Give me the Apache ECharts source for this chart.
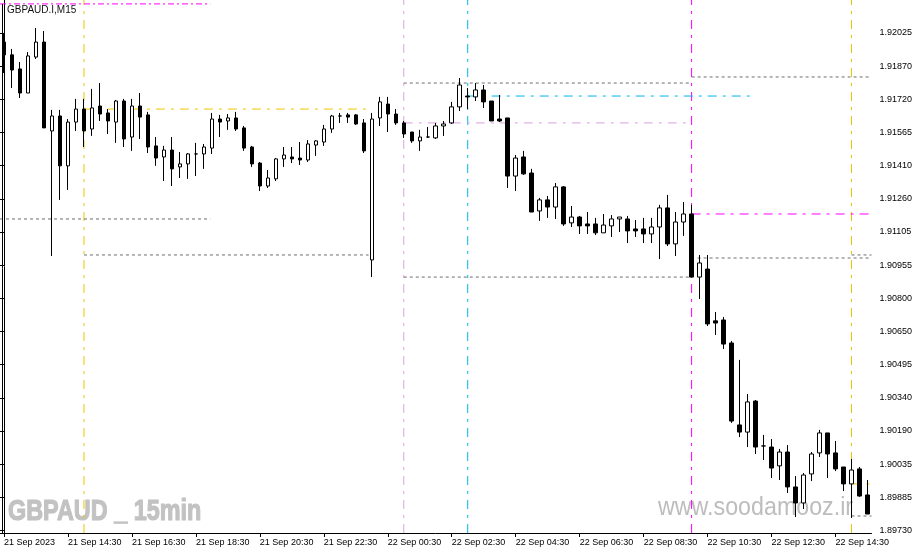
<!DOCTYPE html>
<html><head><meta charset="utf-8">
<script src="https://cdn.jsdelivr.net/npm/echarts/dist/echarts.min.js"></script>
<style>html,body{margin:0;padding:0;background:#fff}#c{width:919px;height:554px}</style>
</head><body><div id="c"></div>
<script>
// ---- data (GBPAUD.I, M15, starting 21 Sep 2023 12:30) ----
const startTime = '2023-09-21T12:30';
const opens = [1.91983,1.91924,1.91859,1.91748,1.91914,1.91983,1.91573,1.91642,1.91412,1.91614,
1.91674,1.91582,1.91688,1.91656,1.91614,1.91711,1.91545,1.91688,1.91647,1.91504,
1.91453,1.91485,1.91407,1.91421,1.91467,1.91467,1.91494,1.91628,1.91619,1.91633,
1.91587,1.91499,1.91425,1.91319,1.91352,1.91444,1.91453,1.91448,1.91439,1.91508,
1.91522,1.91582,1.91642,1.91647,1.91647,1.91610,1.90978,1.91633,1.91697,1.91651,
1.91610,1.91568,1.91527,1.91545,1.91541,1.91596,1.91610,1.91684,1.91734,1.91730,
1.91762,1.91711,1.91628,1.91633,1.91365,1.91453,1.91379,1.91204,1.91255,1.91222,
1.91315,1.91149,1.91176,1.91144,1.91144,1.91103,1.91135,1.91167,1.91167,1.91121,
1.91121,1.91098,1.91130,1.91218,1.91052,1.91153,1.91190,1.90899,1.90936,1.90697,
1.90701,1.90595,1.90217,1.90184,1.90327,1.90120,1.90115,1.90028,1.90092,1.89931,
1.89857,1.89991,1.90088,1.90180,1.90088,1.90023,1.89945,1.90014,1.89894];
const closes = [1.91924,1.91854,1.91748,1.91919,1.91983,1.91587,1.91642,1.91412,1.91614,1.91674,
1.91573,1.91679,1.91651,1.91619,1.91711,1.91536,1.91688,1.91637,1.91499,1.91448,
1.91485,1.91398,1.91421,1.91467,1.91467,1.91499,1.91628,1.91614,1.91633,1.91582,
1.91494,1.91421,1.91319,1.91356,1.91444,1.91462,1.91444,1.91439,1.91513,1.91527,
1.91582,1.91642,1.91642,1.91637,1.91605,1.91481,1.91628,1.91707,1.91651,1.91610,
1.91559,1.91527,1.91545,1.91545,1.91596,1.91605,1.91684,1.91785,1.91730,1.91762,
1.91707,1.91619,1.91619,1.91365,1.91448,1.91375,1.91199,1.91255,1.91222,1.91315,
1.91144,1.91176,1.91135,1.91135,1.91103,1.91139,1.91167,1.91176,1.91112,1.91112,
1.91098,1.91130,1.91218,1.91052,1.91153,1.91190,1.90899,1.90964,1.90683,1.90687,
1.90590,1.90235,1.90184,1.90323,1.90115,1.90120,1.90018,1.90092,1.89931,1.89857,
1.89986,1.90083,1.90180,1.90083,1.90014,1.89945,1.90009,1.89889,1.89806];
const lows = [1.91840,1.91771,1.91725,1.91748,1.91905,1.91587,1.90996,1.91255,1.91301,1.91573,
1.91499,1.91550,1.91619,1.91559,1.91518,1.91499,1.91481,1.91536,1.91471,1.91412,
1.91342,1.91319,1.91356,1.91352,1.91365,1.91398,1.91467,1.91545,1.91578,1.91573,
1.91481,1.91407,1.91296,1.91310,1.91342,1.91407,1.91425,1.91416,1.91430,1.91458,
1.91504,1.91564,1.91610,1.91610,1.91601,1.91471,1.90899,1.91596,1.91568,1.91601,
1.91541,1.91518,1.91481,1.91541,1.91536,1.91550,1.91605,1.91665,1.91674,1.91711,
1.91679,1.91619,1.91614,1.91310,1.91296,1.91370,1.91199,1.91158,1.91172,1.91167,
1.91135,1.91130,1.91098,1.91098,1.91093,1.91103,1.91084,1.91107,1.91056,1.91084,
1.91056,1.91056,1.90982,1.91042,1.90996,1.91089,1.90899,1.90798,1.90673,1.90632,
1.90567,1.90226,1.90161,1.90115,1.90083,1.90055,1.89972,1.89963,1.89903,1.89792,
1.89829,1.89958,1.90069,1.89972,1.90004,1.89912,1.89788,1.89885,1.89806];
const highs = [1.92025,1.91951,1.91891,1.91937,1.92048,1.92034,1.91670,1.91670,1.91628,1.91721,
1.91721,1.91767,1.91794,1.91674,1.91716,1.91721,1.91721,1.91748,1.91661,1.91545,
1.91504,1.91545,1.91476,1.91471,1.91518,1.91513,1.91656,1.91647,1.91651,1.91661,
1.91596,1.91504,1.91430,1.91393,1.91448,1.91499,1.91499,1.91522,1.91531,1.91531,
1.91601,1.91647,1.91656,1.91656,1.91651,1.91628,1.91656,1.91730,1.91730,1.91674,
1.91619,1.91568,1.91578,1.91591,1.91610,1.91619,1.91707,1.91817,1.91771,1.91794,
1.91785,1.91711,1.91739,1.91633,1.91462,1.91481,1.91398,1.91264,1.91273,1.91333,
1.91319,1.91227,1.91181,1.91199,1.91172,1.91190,1.91185,1.91176,1.91181,1.91162,
1.91172,1.91172,1.91232,1.91278,1.91199,1.91245,1.91232,1.91001,1.91001,1.90738,
1.90715,1.90604,1.90517,1.90360,1.90332,1.90171,1.90152,1.90106,1.90124,1.89981,
1.89995,1.90092,1.90194,1.90180,1.90143,1.90023,1.90060,1.90023,1.89963];

// x-axis tick labels (every 8th bar = 2 hours)
const xTickLabels = ['21 Sep 2023','21 Sep 14:30','21 Sep 16:30','21 Sep 18:30','21 Sep 20:30','21 Sep 22:30',
'22 Sep 00:30','22 Sep 02:30','22 Sep 04:30','22 Sep 06:30','22 Sep 08:30','22 Sep 10:30','22 Sep 12:30','22 Sep 14:30'];
// price-scale labels, bottom to top
const yTickLabels = ['1.89730','1.89885','1.90035','1.90190','1.90340','1.90495','1.90650','1.90800',
'1.90955','1.91105','1.91260','1.91410','1.91565','1.91720','1.91870','1.92025'];
const priceMin = 1.897185, priceMax = 1.92177;

// session vertical lines (bar index)
const vLineIdx = [10, 50, 58, 86, 106];
// horizontal level lines: price, from bar, to bar
const levelPrice = [1.92159, 1.91167, 1.91674, 1.91001, 1.91794, 1.91610, 1.90899, 1.91734, 1.91822, 1.91190, 1.90987, 1.91001, 1.89945, 1.89797];
const levelFrom  = [-0.5, -0.5, 10, 10, 50, 50, 50, 58, 86, 86, 86.75, 106, 106, 106];
const levelTo    = [25.8, 25.8, 45.6, 45.6, 85.8, 85.8, 85.8, 93.6, 108.5, 108.5, 108.5, 108.5, 108.5, 108.5];

// ---- styles ----
const YEL = '#f3c300', PINK = '#dda0dd', CYAN = '#00b4f0', MAG = '#ff00ff', GRAY = '#6e6e6e';
const DASHDOT = [9,6,3,6], SMALLDD = [6,3,2,3], DASH = [3,3];
const vLineColor = [YEL, PINK, CYAN, MAG, YEL];
const levelColor = [MAG, GRAY, YEL, GRAY, GRAY, PINK, GRAY, CYAN, GRAY, MAG, GRAY, GRAY, YEL, GRAY];
const levelDash = [SMALLDD, DASH, DASHDOT, DASH, DASH, DASHDOT, DASH, DASHDOT, DASH, DASHDOT, DASH, DASH, DASHDOT, DASH];

// categories: 15-minute bars
const categories = [];
{
  const t0 = new Date(startTime + ':00Z').getTime();
  for (let i = 0; i < opens.length; i++) {
    const d = new Date(t0 + i * 15 * 60000);
    categories.push(d.toISOString().slice(0, 16).replace('T', ' '));
  }
}
const candleData = opens.map((o, i) => [o, closes[i], lows[i], highs[i]]);

const FONT = '"Liberation Sans", Arial, sans-serif';
const series = [{
  type: 'candlestick', xAxisIndex: 0, yAxisIndex: 0, data: candleData, barWidth: 4, z: 5,
  itemStyle: { color: '#ffffff', color0: '#000000', borderColor: '#000000', borderColor0: '#000000', borderWidth: 1 },
  silent: true
}];
vLineIdx.forEach((i, k) => {
  series.push({ type: 'line', xAxisIndex: 1, yAxisIndex: 0, data: [[i, priceMin], [i, priceMax]],
    symbol: 'none', silent: true, z: 3,
    lineStyle: { color: vLineColor[k], width: 1, type: DASHDOT } });
});
levelPrice.forEach((p, k) => {
  series.push({ type: 'line', xAxisIndex: 1, yAxisIndex: 0, data: [[levelFrom[k], p], [levelTo[k], p]],
    symbol: 'none', silent: true, z: 3,
    lineStyle: { color: levelColor[k], width: 1, type: levelDash[k] } });
});

const chart = echarts.init(document.getElementById('c'), null, { renderer: 'canvas' });
chart.setOption({
  animation: false,
  backgroundColor: '#ffffff',
  grid: [
    { left: -0.5, top: 0, width: 872, height: 533 },
    { left: -0.5, top: 33, width: 872, height: 497.5 }
  ],
  xAxis: [
    { type: 'category', gridIndex: 0, data: categories, boundaryGap: true,
      axisLine: { show: true, lineStyle: { color: '#000', width: 1 } },
      axisTick: { show: true, alignWithLabel: true, interval: 7, length: 4, lineStyle: { color: '#000' } },
      axisLabel: { interval: 7, align: 'left', margin: 5, fontSize: 9, fontFamily: FONT, color: '#000',
        formatter: (v, idx) => xTickLabels[Math.round(idx / 8)] || '' },
      splitLine: { show: false } },
    { type: 'value', gridIndex: 0, min: -0.5, max: 108.5, show: false },
    { type: 'value', gridIndex: 1, min: 0, max: 1, show: false }
  ],
  yAxis: [
    { type: 'value', gridIndex: 0, position: 'right', min: priceMin, max: priceMax,
      axisLine: { show: true, lineStyle: { color: '#000', width: 1 } },
      axisTick: { show: false }, axisLabel: { show: false }, splitLine: { show: false } },
    { type: 'value', gridIndex: 1, position: 'right', min: 0, max: 15, interval: 1,
      axisLine: { show: false },
      axisTick: { show: true, length: 4, lineStyle: { color: '#000' } },
      axisLabel: { margin: 8, fontSize: 9, fontFamily: FONT, color: '#000', align: 'left',
        formatter: v => yTickLabels[v] || '' },
      splitLine: { show: false } }
  ],
  graphic: [
    { type: 'line', z: 10, shape: { x1: 2.5, y1: 4, x2: 2.5, y2: 533 }, style: { stroke: '#000', lineWidth: 1 } },
    { type: 'text', z: 10, x: 7, y: 10, style: { text: 'GBPAUD.I,M15', fontSize: 10, fontFamily: FONT, fill: '#111', align: 'left', verticalAlign: 'middle' } },
    { type: 'text', z: 0, x: 8, y: 512, scaleX: 0.78, style: { text: 'GBPAUD _ 15min', fontSize: 30, fontWeight: 'bold', fontFamily: FONT, fill: '#c2c2c2', stroke: '#c2c2c2', lineWidth: 1.2, align: 'left', verticalAlign: 'middle' } },
    { type: 'text', z: 0, x: 658, y: 508, scaleX: 0.93, style: { text: 'www.soodamooz.ir', fontSize: 25, fontFamily: FONT, fill: '#bdbdbd', align: 'left', verticalAlign: 'middle' } }
  ],
  series: series
});
</script></body></html>
